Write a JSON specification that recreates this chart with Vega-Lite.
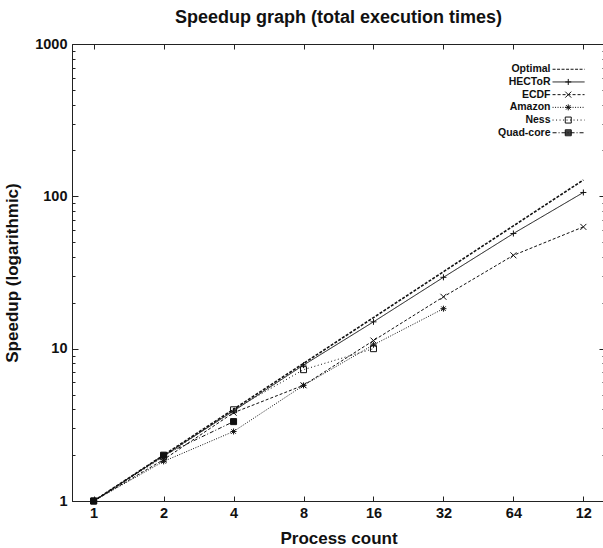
{
  "$schema": "https://vega.github.io/schema/vega-lite/v6.json",
  "width": 533,
  "height": 457,
  "autosize": {"type": "none"},
  "padding": {"left": 72, "top": 44, "right": 0, "bottom": 47},
  "background": "white",
  "config": {
    "font": "Liberation Sans",
    "view": {"stroke": "#222", "strokeWidth": 1},
    "axis": {
      "grid": false,
      "domainColor": "#222",
      "tickColor": "#222",
      "labelColor": "#111",
      "titleColor": "#111",
      "labelFont": "Liberation Sans",
      "titleFont": "Liberation Sans",
      "labelFontWeight": "bold",
      "titleFontWeight": "bold",
      "labelFontSize": 14.5,
      "titleFontSize": 17
    }
  },
  "title": {
    "text": "Speedup graph (total execution times)",
    "font": "Liberation Sans",
    "fontSize": 18,
    "fontWeight": "bold",
    "color": "#111",
    "anchor": "middle",
    "offset": 9
  },
  "data": {
    "values": [
      {"series": "Optimal", "x": 1, "y": 1},
      {"series": "Optimal", "x": 2, "y": 2},
      {"series": "Optimal", "x": 4, "y": 4},
      {"series": "Optimal", "x": 8, "y": 8},
      {"series": "Optimal", "x": 16, "y": 16},
      {"series": "Optimal", "x": 32, "y": 32},
      {"series": "Optimal", "x": 64, "y": 64},
      {"series": "Optimal", "x": 128, "y": 128},
      {"series": "HECToR", "x": 1, "y": 1},
      {"series": "HECToR", "x": 2, "y": 1.98},
      {"series": "HECToR", "x": 4, "y": 3.9},
      {"series": "HECToR", "x": 8, "y": 7.8},
      {"series": "HECToR", "x": 16, "y": 15.0},
      {"series": "HECToR", "x": 32, "y": 29.4},
      {"series": "HECToR", "x": 64, "y": 57},
      {"series": "HECToR", "x": 128, "y": 106},
      {"series": "ECDF", "x": 1, "y": 1},
      {"series": "ECDF", "x": 2, "y": 1.87},
      {"series": "ECDF", "x": 4, "y": 3.8},
      {"series": "ECDF", "x": 8, "y": 5.75},
      {"series": "ECDF", "x": 16, "y": 11.3},
      {"series": "ECDF", "x": 32, "y": 21.9},
      {"series": "ECDF", "x": 64, "y": 41},
      {"series": "ECDF", "x": 128, "y": 63},
      {"series": "Amazon", "x": 1, "y": 1},
      {"series": "Amazon", "x": 2, "y": 1.82},
      {"series": "Amazon", "x": 4, "y": 2.86},
      {"series": "Amazon", "x": 8, "y": 5.74},
      {"series": "Amazon", "x": 16, "y": 10.6},
      {"series": "Amazon", "x": 32, "y": 18.3},
      {"series": "Ness", "x": 1, "y": 1},
      {"series": "Ness", "x": 2, "y": 1.95},
      {"series": "Ness", "x": 4, "y": 3.97},
      {"series": "Ness", "x": 8, "y": 7.28},
      {"series": "Ness", "x": 16, "y": 10.0},
      {"series": "Quad-core", "x": 1, "y": 1},
      {"series": "Quad-core", "x": 2, "y": 2.0},
      {"series": "Quad-core", "x": 4, "y": 3.32}
    ]
  },
  "resolve": {"axis": {"x": "independent", "y": "independent"}},
  "layer": [
    {
      "mark": {"type": "line", "color": "#111", "clip": true},
      "encoding": {
        "x": {
          "field": "x",
          "type": "quantitative",
          "scale": {"type": "log", "base": 2, "domain": [0.807, 158.6], "nice": false, "zero": false},
          "axis": {
            "orient": "bottom",
            "values": [1, 2, 4, 8, 16, 32, 64, 128],
            "format": "d",
            "labelExpr": "datum.value == 128 ? '12' : datum.label",
            "tickSize": -5,
            "labelPadding": 10,
            "title": "Process count",
            "titleBaseline": "alphabetic",
            "titleY": 42
          }
        },
        "y": {
          "field": "y",
          "type": "quantitative",
          "scale": {"type": "log", "domain": [1, 1000], "nice": false, "zero": false},
          "axis": {
            "orient": "left",
            "values": [1, 2, 3, 4, 5, 6, 7, 8, 9, 10, 20, 30, 40, 50, 60, 70, 80, 90, 100, 200, 300, 400, 500, 600, 700, 800, 900, 1000],
            "labelExpr": "(datum.value == 1 || datum.value == 10 || datum.value == 100 || datum.value == 1000) ? format(datum.value, 'd') : ''",
            "tickSize": {"condition": {"test": "datum.value == 1 || datum.value == 10 || datum.value == 100 || datum.value == 1000", "value": -6}, "value": -3},
            "labelPadding": 11,
            "title": "Speedup (logarithmic)",
            "titleBaseline": "alphabetic",
            "titleAlign": "center",
            "titleX": -54.5,
            "titleY": 228.5
          }
        },
        "strokeDash": {
          "field": "series",
          "type": "nominal",
          "scale": {
            "domain": ["Optimal", "HECToR", "ECDF", "Amazon", "Ness", "Quad-core"],
            "range": [[3, 1.5], [1, 0], [3, 2], [1, 1.5], [1, 2.5], [4, 2, 1, 2]]
          },
          "legend": {
            "orient": "none",
            "legendX": 491.3,
            "legendY": 20,
            "title": null,
            "padding": 0,
            "symbolType": "M-6,0H6",
            "symbolSize": 28.44,
            "symbolStrokeColor": "#111",
            "symbolStrokeWidth": 1,
            "symbolFillColor": "transparent",
            "labelAlign": "right",
            "labelOffset": -23.3,
            "labelFont": "Liberation Sans",
            "labelFontSize": 10.5,
            "labelFontWeight": "bold",
            "labelColor": "#111",
            "rowPadding": 1.7
          }
        },
        "strokeWidth": {"condition": {"test": "datum.series === 'Optimal'", "value": 1.6}, "value": 1}
      }
    },
    {
      "transform": [{"filter": "datum.series !== 'Optimal'"}],
      "mark": {"type": "point", "color": "#111", "filled": false, "strokeWidth": 1, "opacity": 1},
      "encoding": {
        "x": {
          "field": "x",
          "type": "quantitative",
          "axis": {
            "orient": "top",
            "values": [1, 2, 4, 8, 16, 32, 64, 128],
            "labels": false,
            "domain": false,
            "title": null,
            "tickSize": -5
          }
        },
        "y": {
          "field": "y",
          "type": "quantitative",
          "axis": {
            "orient": "right",
            "values": [1, 2, 3, 4, 5, 6, 7, 8, 9, 10, 20, 30, 40, 50, 60, 70, 80, 90, 100, 200, 300, 400, 500, 600, 700, 800, 900, 1000],
            "labels": false,
            "domain": false,
            "title": null,
            "tickSize": {"condition": {"test": "datum.value == 1 || datum.value == 10 || datum.value == 100 || datum.value == 1000", "value": -6}, "value": -3}
          }
        },
        "shape": {
          "field": "series",
          "type": "nominal",
          "scale": {
            "domain": ["HECToR", "ECDF", "Amazon", "Ness", "Quad-core"],
            "range": [
              "M-1,0H1M0,-1V1",
              "M-1,-1L1,1M-1,1L1,-1",
              "M-1,0H1M0,-1V1M-0.75,-0.75L0.75,0.75M-0.75,0.75L0.75,-0.75",
              "square",
              "M-1,-1H1V1H-1ZM-1,-0.66H1M-1,-0.33H1M-1,0H1M-1,0.33H1M-1,0.66H1"
            ]
          },
          "legend": {
            "orient": "none",
            "legendX": 491,
            "legendY": 32.7,
            "title": null,
            "padding": 0,
            "symbolSize": 36,
            "symbolStrokeColor": "#111",
            "symbolStrokeWidth": 1,
            "labelExpr": "''",
            "labelFontSize": 10.5,
            "rowPadding": 1.7
          }
        },
        "fill": {"condition": {"test": "datum.series === 'Quad-core'", "value": "#111"}, "value": "transparent"},
        "size": {"value": 36}
      }
    }
  ]
}
